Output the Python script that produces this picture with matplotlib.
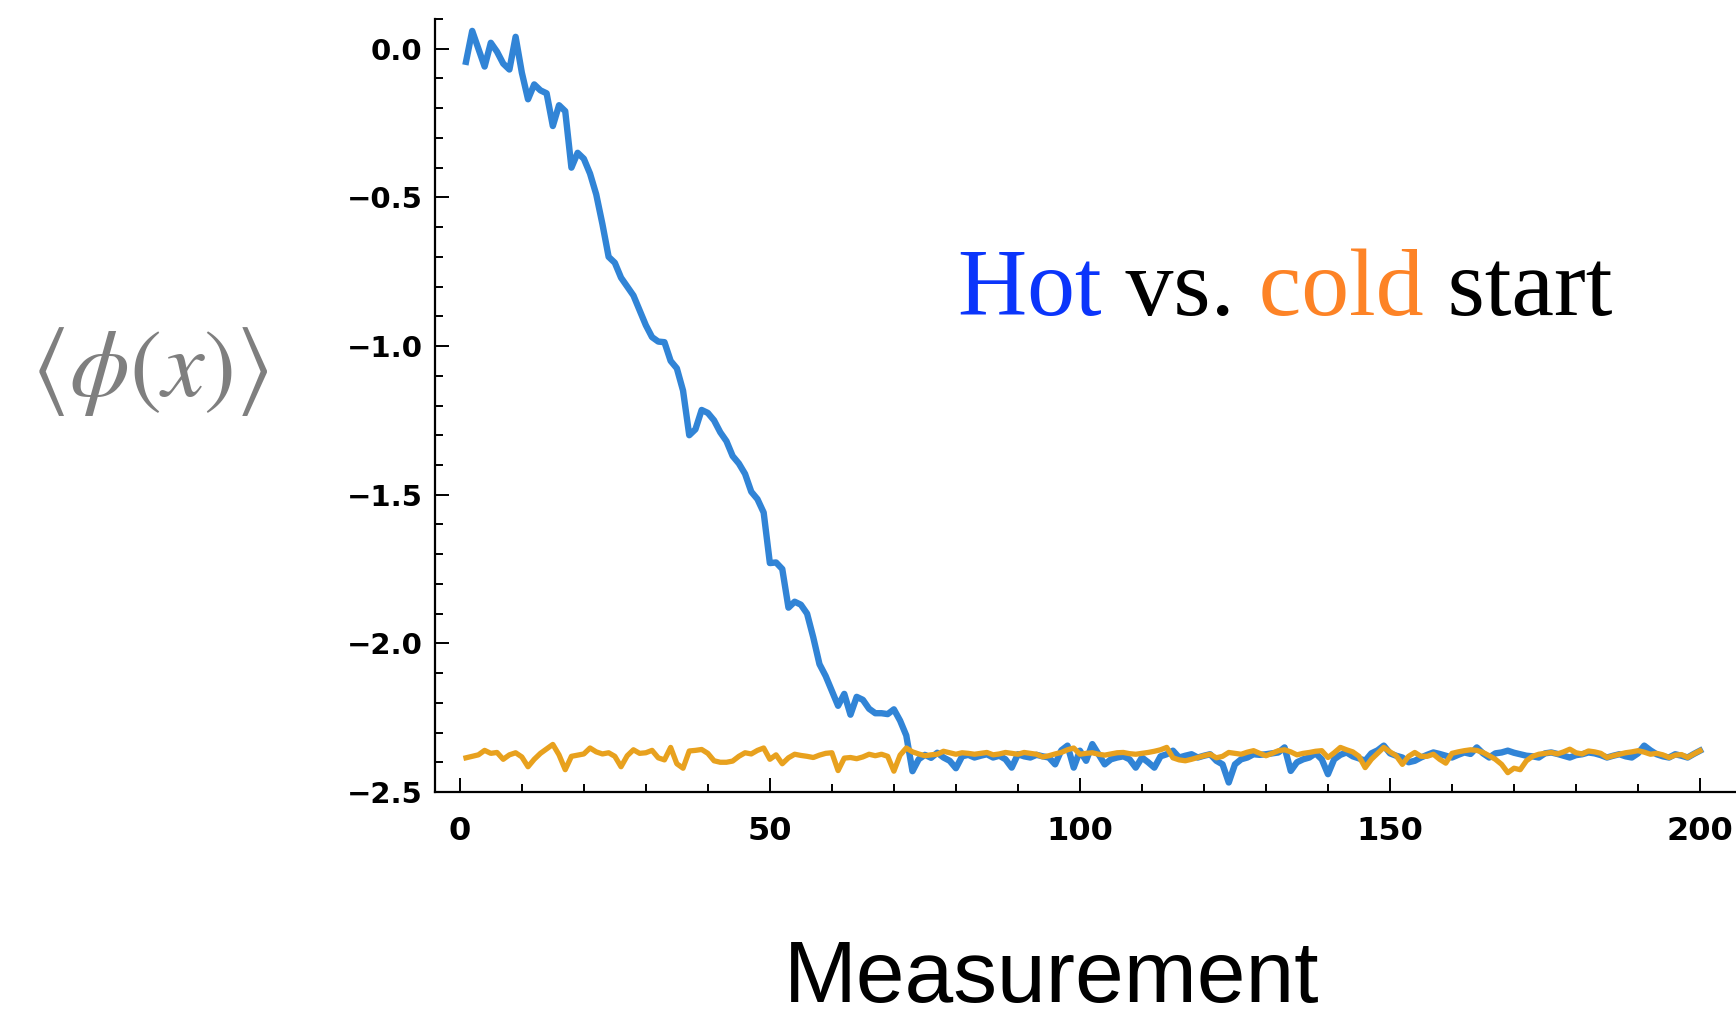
import matplotlib
matplotlib.use('Agg')
import matplotlib.pyplot as plt
import numpy as np
from matplotlib.ticker import MultipleLocator, FuncFormatter
from matplotlib.transforms import Bbox

plt.rcParams['mathtext.fontset'] = 'stix'

# measurement index
measurement = np.arange(1, 201)

# hot start: <phi(x)> per measurement
hot_start = [
    -0.044, 0.06, 0.0, -0.06, 0.02, -0.01, -0.05, -0.07, 0.04, -0.08,
    -0.17, -0.12, -0.14, -0.15, -0.26, -0.19, -0.21, -0.40, -0.35, -0.37,
    -0.42, -0.49, -0.59, -0.70, -0.72, -0.77, -0.80, -0.83, -0.88, -0.93,
    -0.97, -0.985, -0.987, -1.05, -1.075, -1.15, -1.30, -1.28, -1.215, -1.225,
    -1.25, -1.29, -1.32, -1.37, -1.395, -1.43, -1.49, -1.515, -1.56, -1.73,
    -1.728, -1.75, -1.88, -1.86, -1.87, -1.90, -1.98, -2.07, -2.11, -2.16,
    -2.21, -2.17, -2.24, -2.18, -2.19, -2.22, -2.235, -2.235, -2.238, -2.222,
    -2.26, -2.31, -2.43, -2.39, -2.375, -2.385, -2.368, -2.384, -2.395, -2.42,
    -2.38, -2.375, -2.384, -2.378, -2.373, -2.384, -2.378, -2.39, -2.418, -2.373,
    -2.38, -2.384, -2.375, -2.38, -2.384, -2.407, -2.36, -2.344, -2.418, -2.361,
    -2.395, -2.339, -2.373, -2.407, -2.39, -2.384, -2.38, -2.39, -2.418, -2.384,
    -2.40, -2.418, -2.38, -2.373, -2.361, -2.384, -2.378, -2.373, -2.384, -2.378,
    -2.373, -2.395, -2.407, -2.468, -2.407, -2.39, -2.384, -2.373, -2.375, -2.373,
    -2.37, -2.367, -2.35, -2.429, -2.40, -2.39, -2.384, -2.37, -2.39, -2.44,
    -2.39, -2.375, -2.367, -2.38, -2.387, -2.395, -2.37, -2.36, -2.344, -2.37,
    -2.378, -2.384, -2.40, -2.395, -2.384, -2.375, -2.367, -2.372, -2.378, -2.384,
    -2.375, -2.367, -2.372, -2.35, -2.37, -2.384, -2.37, -2.367, -2.361, -2.368,
    -2.373, -2.378, -2.38, -2.384, -2.37, -2.367, -2.372, -2.378, -2.384, -2.376,
    -2.373, -2.367, -2.37, -2.376, -2.384, -2.378, -2.373, -2.38, -2.384, -2.37,
    -2.344, -2.36, -2.373, -2.38, -2.384, -2.373, -2.378, -2.384, -2.372, -2.361,
]

# cold start
cold_start = [
    -2.385, -2.38, -2.375, -2.36, -2.37, -2.367, -2.39, -2.375, -2.368, -2.382,
    -2.415, -2.39, -2.37, -2.355, -2.34, -2.375, -2.425, -2.38, -2.376, -2.372,
    -2.352, -2.365, -2.372, -2.368, -2.38, -2.415, -2.378, -2.358, -2.37, -2.368,
    -2.36, -2.385, -2.392, -2.35, -2.405, -2.42, -2.362, -2.36, -2.357, -2.37,
    -2.395, -2.40, -2.40, -2.396, -2.38, -2.368, -2.372, -2.36, -2.352, -2.39,
    -2.375, -2.405, -2.385, -2.373, -2.377, -2.38, -2.384, -2.376, -2.37, -2.368,
    -2.428, -2.386, -2.384, -2.388, -2.382, -2.373, -2.378, -2.373, -2.38, -2.43,
    -2.376, -2.352, -2.365, -2.372, -2.378, -2.375, -2.373, -2.363, -2.368, -2.373,
    -2.368, -2.37, -2.373, -2.37, -2.367, -2.375, -2.372, -2.367, -2.37, -2.373,
    -2.367, -2.37, -2.373, -2.382, -2.378, -2.372, -2.367, -2.358, -2.352, -2.373,
    -2.37, -2.368, -2.373, -2.376, -2.372, -2.368, -2.367, -2.371, -2.373, -2.37,
    -2.367, -2.363, -2.358, -2.35, -2.385, -2.392, -2.395, -2.39, -2.384, -2.378,
    -2.373, -2.385, -2.38, -2.367, -2.37, -2.373, -2.366, -2.361, -2.37, -2.378,
    -2.37, -2.361, -2.358, -2.365, -2.375, -2.37, -2.367, -2.363, -2.361, -2.384,
    -2.368, -2.35, -2.358, -2.365, -2.38, -2.418, -2.39, -2.37, -2.35, -2.365,
    -2.378, -2.407, -2.38, -2.367, -2.38, -2.38, -2.373, -2.39, -2.403, -2.37,
    -2.365, -2.361, -2.358, -2.36, -2.367, -2.378, -2.39, -2.407, -2.435, -2.42,
    -2.425, -2.395, -2.38, -2.373, -2.37, -2.367, -2.372, -2.365, -2.356, -2.368,
    -2.372, -2.362, -2.365, -2.37, -2.384, -2.378, -2.373, -2.368, -2.365, -2.361,
    -2.366, -2.373, -2.37, -2.375, -2.384, -2.376, -2.374, -2.384, -2.372, -2.361,
]

W, H = 1736, 1017
fig = plt.figure(figsize=(W / 100, H / 100), dpi=100)
ax = fig.add_axes([435 / W, 225 / H, 1 - 435 / W, 773 / H])

ax.plot(measurement, hot_start, color='#3184d6', lw=4.6, solid_joinstyle='round')
ax.plot(measurement, cold_start, color='#e8a11e', lw=3.8, solid_joinstyle='round')

ax.set_xlim(-4, 205.8)
ax.set_ylim(-2.5, 0.1)

for s in ['top', 'right']:
    ax.spines[s].set_visible(False)
for s in ['left', 'bottom']:
    ax.spines[s].set_linewidth(1.6)

ax.xaxis.set_major_locator(MultipleLocator(50))
ax.xaxis.set_minor_locator(MultipleLocator(10))
ax.yaxis.set_major_locator(MultipleLocator(0.5))
ax.yaxis.set_minor_locator(MultipleLocator(0.1))
ax.yaxis.set_major_formatter(FuncFormatter(lambda v, p: ('%.1f' % v).replace('-', '\u2212')))

ax.tick_params(which='both', direction='in', width=1.4, colors='black')
ax.tick_params(which='major', length=10)
ax.tick_params(which='minor', length=6)
ax.tick_params(axis='x', which='major', labelsize=23, pad=17)
ax.tick_params(axis='y', which='major', labelsize=21, pad=9)
for lab in ax.get_xticklabels() + ax.get_yticklabels():
    lab.set_fontweight('bold')

# y label
fig.text(150 / W, 1 - 371 / H, r'$\langle\phi(x)\rangle$', ha='center', va='center',
         color='#7f7f7f', fontsize=69)

# x label
fig.text(1052 / W, 1 - 1002 / H, 'Measurement', ha='center', va='baseline',
         family='Liberation Sans', fontsize=63, color='black')

# "Hot vs. cold start" with coloured words
title = 'Hot vs. cold start'
tx, ty = 958 / W, 1 - 315.5 / H
tprops = dict(family='Liberation Serif', fontsize=69, ha='left', va='baseline')
renderer = fig.canvas.get_renderer()


def prefix_width(s):
    t = fig.text(tx, ty, s, **tprops)
    w = t.get_window_extent(renderer).width
    t.remove()
    return w


x0 = tx * W
b_hot = x0 + prefix_width('Hot') + 8
b_cold0 = x0 + prefix_width('Hot vs.') + 8
b_cold1 = x0 + prefix_width('Hot vs. cold') + 8

segments = [
    (0, b_hot, '#0b35fb'),
    (b_hot, b_cold0, 'black'),
    (b_cold0, b_cold1, '#fd8326'),
    (b_cold1, W, 'black'),
]
for xa, xb, col in segments:
    t = fig.text(tx, ty, title, color=col, **tprops)
    t.set_clip_box(Bbox([[xa, 0], [xb, H]]))
    t.set_clip_on(True)

fig.savefig('out.png', dpi=100)
